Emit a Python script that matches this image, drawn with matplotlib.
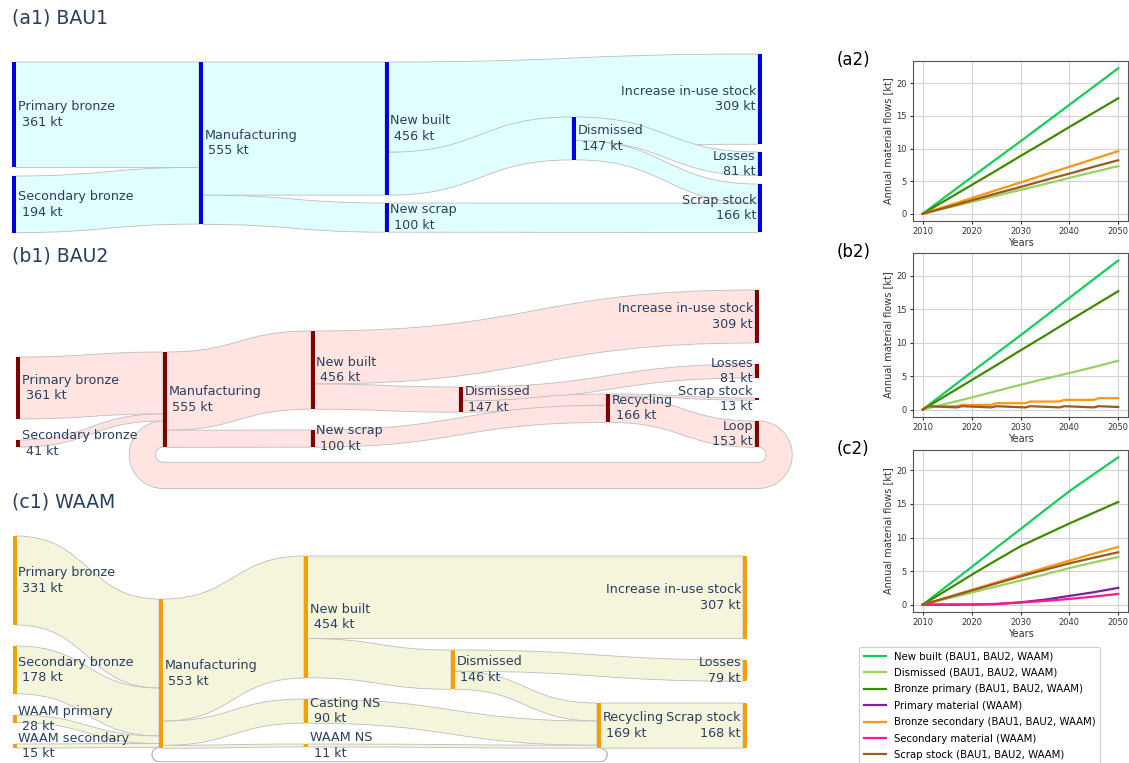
#!/usr/bin/env python3
"""Bronze material-flow Sankeys (BAU1, BAU2, WAAM) with annual flow curves."""
import numpy as np
import matplotlib
matplotlib.use("Agg")
import matplotlib.pyplot as plt
from matplotlib.path import Path
from matplotlib.patches import PathPatch, Polygon, Rectangle
from matplotlib.lines import Line2D

W, H = 1129, 763
NODE_W = 3.5
TXT = "#2a3f5f"

# ---------------- (a1) BAU1 ----------------
A1_NODES = ["Primary bronze", "Secondary bronze", "Manufacturing", "New built", "New scrap",
            "Dismissed", "Increase in-use stock", "Losses", "Scrap stock"]
A1_NODE_KT = [361, 194, 555, 456, 100, 147, 309, 81, 166]
A1_SRC = ["Primary bronze", "Secondary bronze", "Manufacturing", "Manufacturing", "New built",
          "New built", "Dismissed", "Dismissed", "New scrap"]
A1_TGT = ["Manufacturing", "Manufacturing", "New built", "New scrap", "Increase in-use stock",
          "Dismissed", "Losses", "Scrap stock", "Scrap stock"]
A1_FLOW = [361, 194, 456, 100, 309, 147, 81, 66, 100]

# ---------------- (b1) BAU2 ----------------
B1_NODES = ["Primary bronze", "Secondary bronze", "Manufacturing", "New built", "New scrap",
            "Dismissed", "Recycling", "Increase in-use stock", "Losses", "Scrap stock", "Loop"]
B1_NODE_KT = [361, 41, 555, 456, 100, 147, 166, 309, 81, 13, 153]
B1_SRC = ["Primary bronze", "Secondary bronze", "Loop", "Manufacturing", "Manufacturing",
          "New built", "New built", "Dismissed", "Dismissed", "New scrap", "Recycling", "Recycling"]
B1_TGT = ["Manufacturing", "Manufacturing", "Manufacturing", "New built", "New scrap",
          "Increase in-use stock", "Dismissed", "Losses", "Recycling", "Recycling",
          "Scrap stock", "Loop"]
B1_FLOW = [361, 41, 153, 456, 100, 309, 147, 81, 66, 100, 13, 153]

# ---------------- (c1) WAAM ----------------
C1_NODES = ["Primary bronze", "Secondary bronze", "WAAM primary", "WAAM secondary",
            "Manufacturing", "New built", "Casting NS", "WAAM NS", "Dismissed", "Recycling",
            "Increase in-use stock", "Losses", "Scrap stock"]
C1_NODE_KT = [331, 178, 28, 15, 553, 454, 90, 11, 146, 169, 307, 79, 168]
C1_SRC = ["Primary bronze", "Secondary bronze", "WAAM primary", "WAAM secondary", "Recycling",
          "Manufacturing", "Manufacturing", "Manufacturing", "New built", "New built",
          "Dismissed", "Dismissed", "Casting NS", "WAAM NS", "Recycling"]
C1_TGT = ["Manufacturing", "Manufacturing", "Manufacturing", "Manufacturing", "Manufacturing",
          "New built", "Casting NS", "WAAM NS", "Increase in-use stock", "Dismissed",
          "Losses", "Recycling", "Recycling", "Recycling", "Scrap stock"]
C1_FLOW = [331, 178, 28, 15, 1, 454, 90, 11, 307, 146, 79, 67, 90, 11, 168]

# node placement (left edge, top edge) in figure pixels
A1_POS = {"Primary bronze": (12, 62), "Secondary bronze": (12, 176), "Manufacturing": (199, 62),
          "New built": (385, 62), "New scrap": (385, 203), "Dismissed": (572, 117),
          "Increase in-use stock": (758, 54), "Losses": (758, 152), "Scrap stock": (758, 184)}
B1_POS = {"Primary bronze": (16, 357), "Secondary bronze": (16, 440), "Manufacturing": (163, 352),
          "New built": (311, 331), "New scrap": (311, 430), "Dismissed": (459, 387),
          "Recycling": (606, 394), "Increase in-use stock": (755, 290), "Losses": (755, 364),
          "Scrap stock": (755, 398), "Loop": (755, 421)}
C1_POS = {"Primary bronze": (13, 536), "Secondary bronze": (13, 646), "WAAM primary": (13, 715),
          "WAAM secondary": (13, 744), "Manufacturing": (159, 599), "New built": (304, 556),
          "Casting NS": (304, 699), "WAAM NS": (304, 744), "Dismissed": (451, 650),
          "Recycling": (597, 703), "Increase in-use stock": (743, 556), "Losses": (743, 660),
          "Scrap stock": (743, 703)}

# ---------------- annual flows ----------------
YEARS = np.arange(2010, 2051, 5)
YEARS_ALL = np.arange(2010, 2051)

A2_NEW_BUILT = [0, 2.8, 5.6, 8.35, 11.1, 13.9, 16.7, 19.5, 22.3]
A2_DISMISSED = [0, 0.9, 1.8, 2.75, 3.65, 4.55, 5.5, 6.4, 7.3]
A2_BRONZE_PRIMARY = [0, 2.2, 4.4, 6.6, 8.85, 11.05, 13.3, 15.5, 17.7]
A2_BRONZE_SECONDARY = [0, 1.2, 2.4, 3.6, 4.8, 6.0, 7.2, 8.4, 9.6]
A2_SCRAP_STOCK = [0, 1.0, 2.05, 3.1, 4.1, 5.15, 6.15, 7.2, 8.2]

B2_NEW_BUILT = [0, 2.8, 5.6, 8.35, 11.1, 13.9, 16.7, 19.5, 22.3]
B2_DISMISSED = [0, 0.9, 1.8, 2.75, 3.7, 4.6, 5.45, 6.35, 7.3]
B2_BRONZE_PRIMARY = [0, 2.2, 4.4, 6.6, 8.85, 11.05, 13.3, 15.5, 17.7]
B2_BRONZE_SECONDARY = [0, 0.5, 0.5, 0.5, 0.5, 0.5, 0.5, 0.5,
                       0.7, 0.7, 0.7, 0.7, 0.7, 0.7, 0.7,
                       0.95, 0.95, 0.95, 0.95, 0.95, 0.95, 0.95,
                       1.2, 1.2, 1.2, 1.2, 1.2, 1.2, 1.2,
                       1.45, 1.45, 1.45, 1.45, 1.45, 1.45, 1.45,
                       1.7, 1.7, 1.7, 1.7, 1.7]
B2_SCRAP_STOCK = [0, 0.5, 0.47, 0.44, 0.41, 0.38, 0.35, 0.32,
                  0.5, 0.47, 0.44, 0.41, 0.38, 0.35, 0.32,
                  0.5, 0.47, 0.44, 0.41, 0.38, 0.35, 0.32,
                  0.5, 0.47, 0.44, 0.41, 0.38, 0.35, 0.32,
                  0.5, 0.47, 0.44, 0.41, 0.38, 0.35, 0.32,
                  0.5, 0.47, 0.44, 0.41, 0.38]

C2_NEW_BUILT = [0, 2.8, 5.6, 8.45, 11.25, 14.1, 16.9, 19.45, 21.95]
C2_DISMISSED = [0, 0.9, 1.8, 2.7, 3.6, 4.5, 5.45, 6.3, 7.1]
C2_BRONZE_PRIMARY = [0, 2.2, 4.45, 6.6, 8.7, 10.4, 12.1, 13.7, 15.3]
C2_PRIMARY_MATERIAL = [0, 0, 0.02, 0.1, 0.35, 0.75, 1.3, 1.85, 2.5]
C2_BRONZE_SECONDARY = [0, 1.1, 2.2, 3.3, 4.4, 5.5, 6.55, 7.6, 8.6]
C2_SECONDARY_MATERIAL = [0, 0, 0.02, 0.08, 0.3, 0.55, 0.85, 1.2, 1.6]
C2_SCRAP_STOCK = [0, 1.05, 2.1, 3.15, 4.2, 5.2, 6.15, 7.0, 7.8]

SERIES_LABELS = ["New built (BAU1, BAU2, WAAM)", "Dismissed (BAU1, BAU2, WAAM)",
                 "Bronze primary (BAU1, BAU2, WAAM)", "Primary material (WAAM)",
                 "Bronze secondary (BAU1, BAU2, WAAM)", "Secondary material (WAAM)",
                 "Scrap stock (BAU1, BAU2, WAAM)"]
SERIES_COLORS = ["#14cc5a", "#97d25e", "#408a00", "#7a1fa8", "#ff9514", "#ff1a8c", "#9b5a1f"]


def loop_outline(x0, x1, s0, s1, t0, t1, gap):
    """Backward link: leaves the source to the right, runs under the diagram, enters target."""
    hb = s1 - s0
    ysc, ytc = (s0 + s1) / 2, (t0 + t1) / 2
    yb = max(s1, t1) + gap + hb / 2
    rs, rt = (yb - ysc) / 2, (yb - ytc) / 2
    cs, ct = (ysc + yb) / 2, (ytc + yb) / 2
    a_r = np.radians(np.linspace(-90, 90, 40))
    a_l = np.radians(np.linspace(90, 270, 40))
    pts = [(x0 + (rs + hb / 2) * np.cos(a), cs + (rs + hb / 2) * np.sin(a)) for a in a_r]
    pts += [(x1 + (rt + hb / 2) * np.cos(a), ct + (rt + hb / 2) * np.sin(a)) for a in a_l]
    pts += [(x1 + (rt - hb / 2) * np.cos(a), ct + (rt - hb / 2) * np.sin(a)) for a in a_l[::-1]]
    pts += [(x0 + (rs - hb / 2) * np.cos(a), cs + (rs - hb / 2) * np.sin(a)) for a in a_r[::-1]]
    return pts


def draw_sankey(ax, nodes, node_kt, src, tgt, flow, pos, scale, node_col, link_col, gap=15):
    hgt = {n: v * scale for n, v in zip(nodes, node_kt)}
    mid = {n: pos[n][1] + hgt[n] / 2 for n in nodes}
    xmax = max(p[0] for p in pos.values())
    back = [pos[t][0] <= pos[s][0] for s, t in zip(src, tgt)]
    ids = range(len(flow))

    y_out = {n: pos[n][1] for n in nodes}
    y_in = dict(y_out)
    seg_s, seg_t = {}, {}
    for k in sorted(ids, key=lambda k: (back[k], mid[tgt[k]])):
        th = flow[k] * scale
        seg_s[k] = (y_out[src[k]], y_out[src[k]] + th)
        y_out[src[k]] += th
    for k in sorted(ids, key=lambda k: (back[k], mid[src[k]])):
        th = flow[k] * scale
        seg_t[k] = (y_in[tgt[k]], y_in[tgt[k]] + th)
        y_in[tgt[k]] += th

    style = dict(facecolor=link_col, edgecolor="#bdbdbd", lw=0.6, zorder=1)
    for k in sorted(ids, key=lambda k: not back[k]):
        x0 = pos[src[k]][0] + NODE_W
        x1 = pos[tgt[k]][0]
        (s0, s1), (t0, t1) = seg_s[k], seg_t[k]
        if back[k]:
            ax.add_patch(Polygon(loop_outline(x0, x1, s0, s1, t0, t1, gap), closed=True, **style))
            continue
        xm = (x0 + x1) / 2
        verts = [(x0, s0), (xm, s0), (xm, t0), (x1, t0), (x1, t1),
                 (xm, t1), (xm, s1), (x0, s1), (x0, s0)]
        codes = [Path.MOVETO, Path.CURVE4, Path.CURVE4, Path.CURVE4, Path.LINETO,
                 Path.CURVE4, Path.CURVE4, Path.CURVE4, Path.CLOSEPOLY]
        ax.add_patch(PathPatch(Path(verts, codes), **style))

    for n, v in zip(nodes, node_kt):
        x, y = pos[n]
        ax.add_patch(Rectangle((x, y), NODE_W, hgt[n], facecolor=node_col, lw=0, zorder=3))
        if x == xmax:
            ax.text(x - 2, mid[n], f"{n}\n{v} kt", ha="right", va="center", ma="right",
                    fontsize=9.2, color=TXT, linespacing=1.25, zorder=4)
        else:
            ax.text(x + NODE_W + 2, mid[n], f"{n}\n {v} kt", ha="left", va="center", ma="left",
                    fontsize=9.2, color=TXT, linespacing=1.25, zorder=4)


def px_box(left, top, right, bottom):
    return [left / W, 1 - bottom / H, (right - left) / W, (bottom - top) / H]


fig = plt.figure(figsize=(W / 100, H / 100), dpi=100)
base = fig.add_axes([0, 0, 1, 1])
base.set_xlim(0, W)
base.set_ylim(H, 0)
base.axis("off")

draw_sankey(base, A1_NODES, A1_NODE_KT, A1_SRC, A1_TGT, A1_FLOW, A1_POS, 0.292,
            "#0000e0", "#e0ffff")
draw_sankey(base, B1_NODES, B1_NODE_KT, B1_SRC, B1_TGT, B1_FLOW, B1_POS, 0.1715,
            "#800000", "#ffe4e1", gap=15)
draw_sankey(base, C1_NODES, C1_NODE_KT, C1_SRC, C1_TGT, C1_FLOW, C1_POS, 0.269,
            "#f5a000", "#f5f5dc", gap=13)

for label, y in [("(a1) BAU1", 18), ("(b1) BAU2", 256), ("(c1) WAAM", 502)]:
    base.text(12, y, label, fontsize=13.6, color=TXT, ha="left", va="center")

panels = [
    ("(a2)", (913, 61, 1128, 221), [
        (YEARS, A2_NEW_BUILT, 0), (YEARS, A2_DISMISSED, 1), (YEARS, A2_BRONZE_PRIMARY, 2),
        (YEARS, A2_BRONZE_SECONDARY, 4), (YEARS, A2_SCRAP_STOCK, 6)]),
    ("(b2)", (913, 253, 1128, 417), [
        (YEARS, B2_NEW_BUILT, 0), (YEARS, B2_DISMISSED, 1), (YEARS, B2_BRONZE_PRIMARY, 2),
        (YEARS_ALL, B2_BRONZE_SECONDARY, 4), (YEARS_ALL, B2_SCRAP_STOCK, 6)]),
    ("(c2)", (913, 450, 1128, 612), [
        (YEARS, C2_NEW_BUILT, 0), (YEARS, C2_DISMISSED, 1), (YEARS, C2_BRONZE_PRIMARY, 2),
        (YEARS, C2_PRIMARY_MATERIAL, 3), (YEARS, C2_BRONZE_SECONDARY, 4),
        (YEARS, C2_SECONDARY_MATERIAL, 5), (YEARS, C2_SCRAP_STOCK, 6)]),
]
for tag, box, series in panels:
    ax = fig.add_axes(px_box(*box))
    for x, y, i in series:
        ax.plot(x, y, color=SERIES_COLORS[i], lw=1.6)
    ax.set_xticks([2010, 2020, 2030, 2040, 2050])
    ax.set_yticks([0, 5, 10, 15, 20])
    ax.grid(True, color="#d3d3d3", lw=0.8)
    ax.set_axisbelow(True)
    ax.tick_params(labelsize=6, length=2.5, pad=2, colors="#333333")
    for sp in ax.spines.values():
        sp.set_color("#555555")
        sp.set_linewidth(0.8)
    ax.set_xlabel("Years", fontsize=7, labelpad=1, color="#333333")
    ax.set_ylabel("Annual material flows [kt]", fontsize=7, labelpad=2, color="#333333")
    fig.text(837 / W, 1 - (box[1] - 1) / H, tag, fontsize=12, ha="left", va="center")

handles = [Line2D([], [], color=c, lw=1.6) for c in SERIES_COLORS]
leg = fig.legend(handles, SERIES_LABELS, loc="upper left",
                 bbox_to_anchor=(859 / W, 1 - 647 / H), fontsize=7.3, labelspacing=0.63,
                 handlelength=2.2, borderaxespad=0, borderpad=0.45, fancybox=True,
                 framealpha=1)
leg.get_frame().set_edgecolor("#cccccc")
leg.get_frame().set_linewidth(0.8)

fig.savefig("out.png", dpi=100)
